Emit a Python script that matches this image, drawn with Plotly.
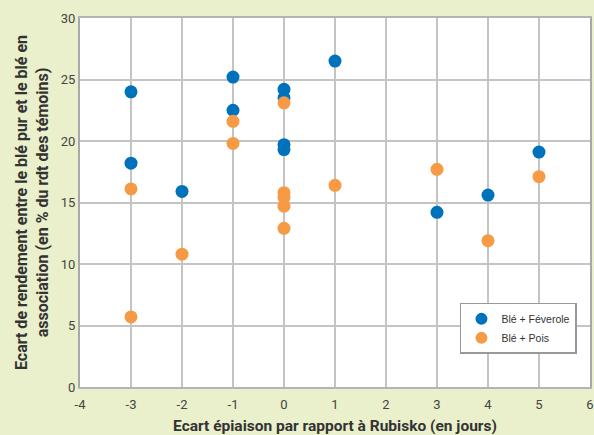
import plotly.graph_objects as go

# Blé + Féverole
fev_x = [-3, -3, -2, -1, -1, 0, 0, 0, 0, 1, 3, 4, 5]
fev_y = [24.0, 18.2, 15.9, 25.2, 22.5, 24.2, 23.5, 19.7, 19.3, 26.5, 14.2, 15.6, 19.1]

# Blé + Pois
pois_x = [-3, -3, -2, -1, -1, 0, 0, 0, 0, 0, 1, 3, 4, 5]
pois_y = [16.1, 5.7, 10.8, 21.6, 19.8, 23.1, 15.8, 15.4, 14.7, 12.9, 16.4, 17.7, 11.9, 17.1]

x_ticks = [-4, -3, -2, -1, 0, 1, 2, 3, 4, 5, 6]
y_ticks = [0, 5, 10, 15, 20, 25, 30]

fig = go.Figure()
fig.add_trace(go.Scatter(x=fev_x, y=fev_y, mode="markers", name="Blé + Féverole",
                         marker=dict(color="#0072BC", size=13)))
fig.add_trace(go.Scatter(x=pois_x, y=pois_y, mode="markers", name="Blé + Pois",
                         marker=dict(color="#F79A45", size=13)))

fig.update_layout(
    width=594, height=435,
    paper_bgcolor="#E9F0CB", plot_bgcolor="white",
    margin=dict(l=80, r=4, t=18, b=48),
    font=dict(family="Roboto, Arial, sans-serif", color="#333333", size=12),
    showlegend=True,
    legend=dict(x=0.745, y=0.228, xanchor="left", yanchor="top",
                bgcolor="white", bordercolor="#999999", borderwidth=1.5,
                font=dict(family="Liberation Sans, Arial, sans-serif", size=10.5, color="#333333"),
                itemsizing="constant", itemwidth=30, tracegroupgap=0),
)
fig.update_xaxes(range=[-4, 6], tickvals=x_ticks, ticktext=[str(v) for v in x_ticks],
                 showgrid=True, gridcolor="#C4C4C4", gridwidth=2,
                 showline=True, linecolor="#B4B4B4", linewidth=2, mirror=True,
                 zeroline=False, ticks="", tickfont=dict(size=13, color="#444444"),
                 ticklabelstandoff=4, automargin=False,
                 title=dict(text="<b>Ecart épiaison par rapport à Rubisko (en jours)</b>",
                            font=dict(size=15.5, color="#333333"), standoff=12))
fig.update_yaxes(range=[0, 30], tickvals=y_ticks, ticktext=[str(v) for v in y_ticks],
                 showgrid=True, gridcolor="#C4C4C4", gridwidth=2,
                 showline=True, linecolor="#A8A8A8", linewidth=2, mirror=True,
                 zeroline=False, ticks="", tickfont=dict(size=13, color="#444444"),
                 automargin=False,
                 title=dict(text="<b>Ecart de rendement entre le blé pur et le blé en<br>association (en % du rdt des témoins)</b>",
                            font=dict(size=16, color="#333333"), standoff=8))

fig.write_html("out.html", config={"displayModeBar": False},
               post_script="document.body.style.margin='0';")
